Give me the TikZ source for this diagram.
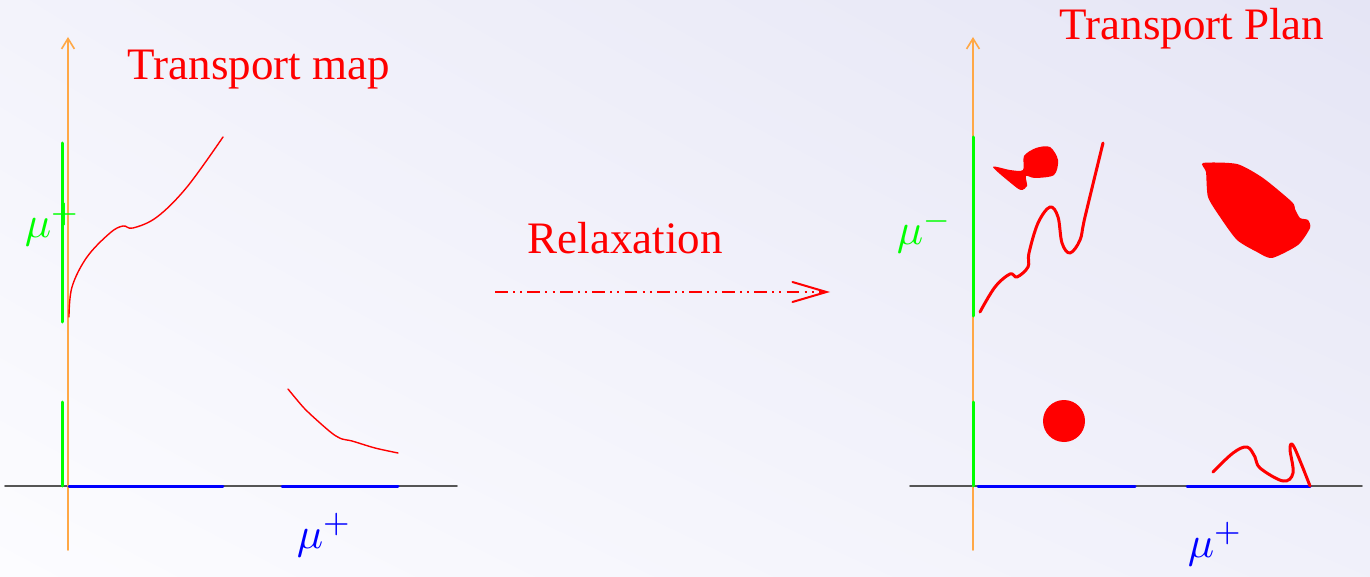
\documentclass[tikz,border=0pt]{standalone}
\usepackage{fontspec}
\setmainfont{Liberation Serif}
\usetikzlibrary{arrows.meta,shadings}
\definecolor{axisorange}{RGB}{255,168,70}
\definecolor{axisgray}{RGB}{85,85,85}
\definecolor{bglav}{RGB}{229,229,245}
\definecolor{bgwhite}{RGB}{252,252,255}
\tikzset{
  yaxis/.style={axisorange, line width=0.4pt, -{Straight Barb[length=2.6pt,width=3.2pt]}},
  xaxis/.style={axisgray, line width=0.4pt},
  margin/.style={line width=0.75pt},
  title/.style={red, font=\fontsize{11.25}{13.5}\selectfont, anchor=base},
  measure/.style={font=\fontsize{11.25}{13.5}\selectfont, anchor=base west, inner sep=0pt},
}
\begin{document}
\begin{tikzpicture}[x=0.25pt, y=-0.25pt, line join=round, line cap=round]
	% background
	\shade[upper left=bgwhite!60!bglav, upper right=bglav, lower left=bgwhite, lower right=bgwhite!50!bglav] (0,0) rectangle (1370,577);
	\useasboundingbox (0,0) rectangle (1370,577);
	% transport map
	\coordinate (xL0) at (5,486);
	\coordinate (xL1) at (457,486);
	\coordinate (yL0) at (68,550);
	\coordinate (yL1) at (68,37);
	\draw[xaxis] (xL0) -- (xL1);
	\draw[yaxis] (yL0) -- (yL1);
	\draw[margin, green] (62,143) -- (62,322);
	\draw[margin, green] (62,402) -- (62,486);
	\draw[margin, blue] (69,486) -- (223,486);
	\draw[margin, blue] (282,486) -- (398,486);
	\draw[red, line width=0.35pt] plot[smooth, tension=0.6] coordinates {(69,317) (72,287) (87,257) (110,233) (123,226) (133,228) (157,217) (187,187) (223,137)};
	\draw[red, line width=0.35pt] plot[smooth, tension=0.5] coordinates {(288,389) (304,408) (320,423) (333,434) (342,439) (352,441) (375,448) (398,453)};
	\node[title] (mapT) at (259,80) {Transport map};
	\node[measure, green] (muLm) at (24,238) {$\mu^+$};
	\node[measure, blue] (muLp) at (296,548) {$\mu^+$};
	% relaxation
	\node[title] (relaxT) at (625,253) {Relaxation};
	\coordinate (rel0) at (495,292);
	\coordinate (rel1) at (830,292);
	\draw[red, line width=0.5pt, line cap=butt, dash pattern=on 3.2pt off 1.3pt on 0.5pt off 1.3pt on 0.5pt off 1.3pt,
	      -{Straight Barb[length=8.5pt,width=5pt,line cap=round]}] (rel0) -- (rel1);
	% transport plan
	\coordinate (xR0) at (910,486);
	\coordinate (xR1) at (1362,486);
	\coordinate (yR0) at (973,550);
	\coordinate (yR1) at (973,37);
	\draw[xaxis] (xR0) -- (xR1);
	\draw[yaxis] (yR0) -- (yR1);
	\draw[margin, green] (973,137) -- (973,316);
	\draw[margin, green] (973,402) -- (973,486);
	\draw[margin, blue] (978,486) -- (1135,486);
	\draw[margin, blue] (1187,486) -- (1310,486);
	\draw[red, line width=0.75pt] plot[smooth, tension=0.6] coordinates {(980,312) (995,287) (1010,274) (1017,277) (1028,267) (1029,253) (1038,223) (1050,207) (1058,217) (1062,243) (1070,253) (1080,240) (1085,217) (1103,143)};
	\draw[red, line width=0.75pt] plot[smooth, tension=0.6] coordinates {(1213,472) (1233,453) (1247,447) (1255,457) (1260,468) (1283,481) (1293,473) (1290,449) (1294,447) (1310,486)};
	\fill[red] (1064,421) circle (21);
	\fill[red] plot[smooth cycle, tension=0.5] coordinates {(993,167) (1010,170) (1023,170) (1024,156) (1036,148) (1050,147) (1058,160) (1054,175) (1035,178) (1026,176) (1027,186) (1021,190) (1012,184)};
	\fill[red] plot[smooth cycle, tension=0.4] coordinates {(1203,163) (1237,164) (1263,178) (1292,202) (1295,209) (1300,218) (1308,220) (1310,228) (1298,245) (1272,258) (1257,252) (1237,240) (1220,217) (1208,197) (1206,172)};
	\node[title] (planT) at (1192,40) {Transport Plan};
	\node[measure, green] (muRm) at (896,245) {$\mu^-$};
	\node[measure, blue] (muRp) at (1187,557) {$\mu^+$};
\end{tikzpicture}
\end{document}
